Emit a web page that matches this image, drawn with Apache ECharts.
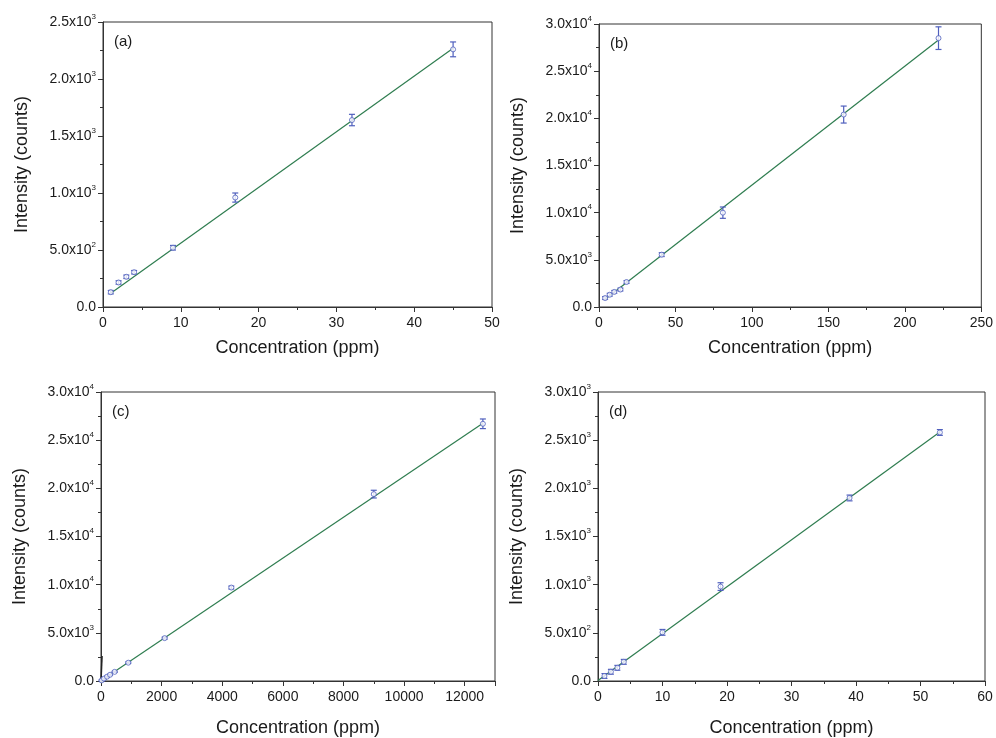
<!DOCTYPE html>
<html><head><meta charset="utf-8">
<script src="https://cdn.jsdelivr.net/npm/echarts@6/dist/echarts.min.js"></script>
<style>html,body{margin:0;padding:0;background:#fff}#c{width:996px;height:738px}</style>
</head><body><div id="c"></div>
<script>
// Panel (a)
const aX = [1, 2, 3, 4, 9, 17, 32, 45];
const aY = [130, 215, 265, 305, 520, 960, 1640, 2260];
const aErr = [15, 15, 15, 15, 20, 40, 50, 65];
const aFitX = [1, 45];
const aFitY = [120, 2270];
// Panel (b)
const bX = [4, 7, 10, 14, 18, 41, 81, 160, 222];
const bY = [950, 1300, 1600, 1850, 2650, 5550, 10000, 20400, 28500];
const bErr = [150, 150, 150, 150, 150, 200, 600, 900, 1200];
const bFitX = [4, 222];
const bFitY = [830, 28300];
// Panel (c)
const cX = [20, 100, 200, 300, 450, 900, 2100, 4300, 9000, 12600];
const cY = [60, 250, 450, 650, 950, 1900, 4450, 9700, 19400, 26700];
const cErr = [60, 60, 60, 60, 60, 80, 100, 150, 400, 500];
const cFitX = [0, 12600];
const cFitY = [30, 26750];
const cSpikeX = [0, 35];
const cSpikeY = [0, 2600];
// Panel (d)
const dX = [1, 2, 3, 4, 10, 19, 39, 53];
const dY = [52, 96, 137, 199, 505, 980, 1900, 2580];
const dErr = [25, 25, 25, 25, 30, 40, 30, 30];
const dFitX = [0, 53];
const dFitY = [5, 2585];
// Axis settings
const xMax = [50, 250, 13000, 60];
const xInt = [10, 50, 2000, 10];
const yMax = [2500, 30000, 30000, 3000];
const yInt = [500, 5000, 5000, 500];
const panelLabels = ['(a)', '(b)', '(c)', '(d)'];

const grids = [
  {left: 103, top: 22, width: 389, height: 285},
  {left: 599, top: 24, width: 385, height: 283},
  {left: 101, top: 392, width: 394, height: 291},
  {left: 598, top: 392, width: 387, height: 291}
];
const xNameGap = [32, 32, 38, 38];
const FONT = 'Liberation Sans, Arial, sans-serif';
const ptColor = '#4f5fbd';
const fitColor = '#2f7d50';
const axColor = '#333333';

function sci(v) {
  if (v === 0) return '{m|0.0}';
  const e = Math.floor(Math.log10(v) + 1e-9);
  const m = v / Math.pow(10, e);
  return '{m|' + m.toFixed(1) + 'x10}{e|' + e + '}';
}

const sets = [
  [aX, aY, aErr, aFitX, aFitY],
  [bX, bY, bErr, bFitX, bFitY],
  [cX, cY, cErr, cFitX, cFitY],
  [dX, dY, dErr, dFitX, dFitY]
];

const xAxes = [], yAxes = [], series = [], graphics = [];
grids.forEach((g, i) => {
  g.show = true; g.borderColor = axColor; g.borderWidth = 1; g.backgroundColor = 'transparent';
  xAxes.push({
    type: 'value', gridIndex: i, min: 0, max: xMax[i], interval: xInt[i],
    name: 'Concentration (ppm)', nameLocation: 'middle', nameGap: xNameGap[i],
    nameTextStyle: {fontFamily: FONT, fontSize: 18, color: '#1a1a1a'},
    axisLine: {lineStyle: {color: axColor, width: 1}},
    axisTick: {show: true, length: 5, lineStyle: {color: axColor}},
    minorTick: {show: true, splitNumber: 2, length: 3, lineStyle: {color: axColor}},
    axisLabel: {fontFamily: FONT, fontSize: 14, color: '#1a1a1a', margin: 9,
      showMaxLabel: i === 2 ? false : true, formatter: v => String(v)},
    splitLine: {show: false}
  });
  yAxes.push({
    type: 'value', gridIndex: i, min: 0, max: yMax[i], interval: yInt[i],
    name: 'Intensity (counts)', nameLocation: 'middle', nameGap: 72,
    nameTextStyle: {fontFamily: FONT, fontSize: 18, color: '#1a1a1a'},
    axisLine: {lineStyle: {color: axColor, width: 1}},
    axisTick: {show: true, length: 5, lineStyle: {color: axColor}},
    minorTick: {show: true, splitNumber: 2, length: 3, lineStyle: {color: axColor}},
    axisLabel: {
      formatter: sci, margin: 7,
      rich: {
        m: {fontFamily: FONT, fontSize: 14, color: '#1a1a1a'},
        e: {fontFamily: FONT, fontSize: 8, color: '#1a1a1a', padding: [0, 0, 11, 0]}
      }
    },
    splitLine: {show: false}
  });
  const [X, Y, E, FX, FY] = sets[i];
  series.push({
    type: 'line', xAxisIndex: i, yAxisIndex: i, symbol: 'none',
    lineStyle: {color: fitColor, width: 1.2}, silent: true, z: 2,
    data: FX.map((x, k) => [x, FY[k]])
  });
  series.push({
    type: 'custom', xAxisIndex: i, yAxisIndex: i, z: 3, silent: true,
    data: X.map((x, k) => [x, Y[k] - E[k], Y[k] + E[k]]),
    renderItem: function (params, api) {
      const lo = api.coord([api.value(0), api.value(1)]);
      const hi = api.coord([api.value(0), api.value(2)]);
      const w = 3;
      const st = {stroke: ptColor, lineWidth: 1.2, fill: null};
      return {type: 'group', children: [
        {type: 'line', shape: {x1: lo[0], y1: lo[1], x2: hi[0], y2: hi[1]}, style: st},
        {type: 'line', shape: {x1: lo[0] - w, y1: lo[1], x2: lo[0] + w, y2: lo[1]}, style: st},
        {type: 'line', shape: {x1: hi[0] - w, y1: hi[1], x2: hi[0] + w, y2: hi[1]}, style: st}
      ]};
    }
  });
  series.push({
    type: 'scatter', xAxisIndex: i, yAxisIndex: i, symbol: 'circle', symbolSize: 5, z: 4, silent: true,
    itemStyle: {color: '#ffffff', borderColor: ptColor, borderWidth: 1},
    data: X.map((x, k) => [x, Y[k]])
  });
  graphics.push({
    type: 'text', left: g.left + 11, top: g.top + 12,
    style: {text: panelLabels[i], font: '15px ' + FONT, fill: '#1a1a1a'}
  });
});
series.push({
  type: 'line', xAxisIndex: 2, yAxisIndex: 2, symbol: 'none', silent: true, z: 2,
  lineStyle: {color: '#222', width: 1.5},
  data: cSpikeX.map((x, k) => [x, cSpikeY[k]])
});

const chart = echarts.init(document.getElementById('c'), null, {renderer: 'canvas'});
chart.setOption({
  animation: false,
  backgroundColor: '#ffffff',
  grid: grids, xAxis: xAxes, yAxis: yAxes, series: series, graphic: graphics
});
</script></body></html>
